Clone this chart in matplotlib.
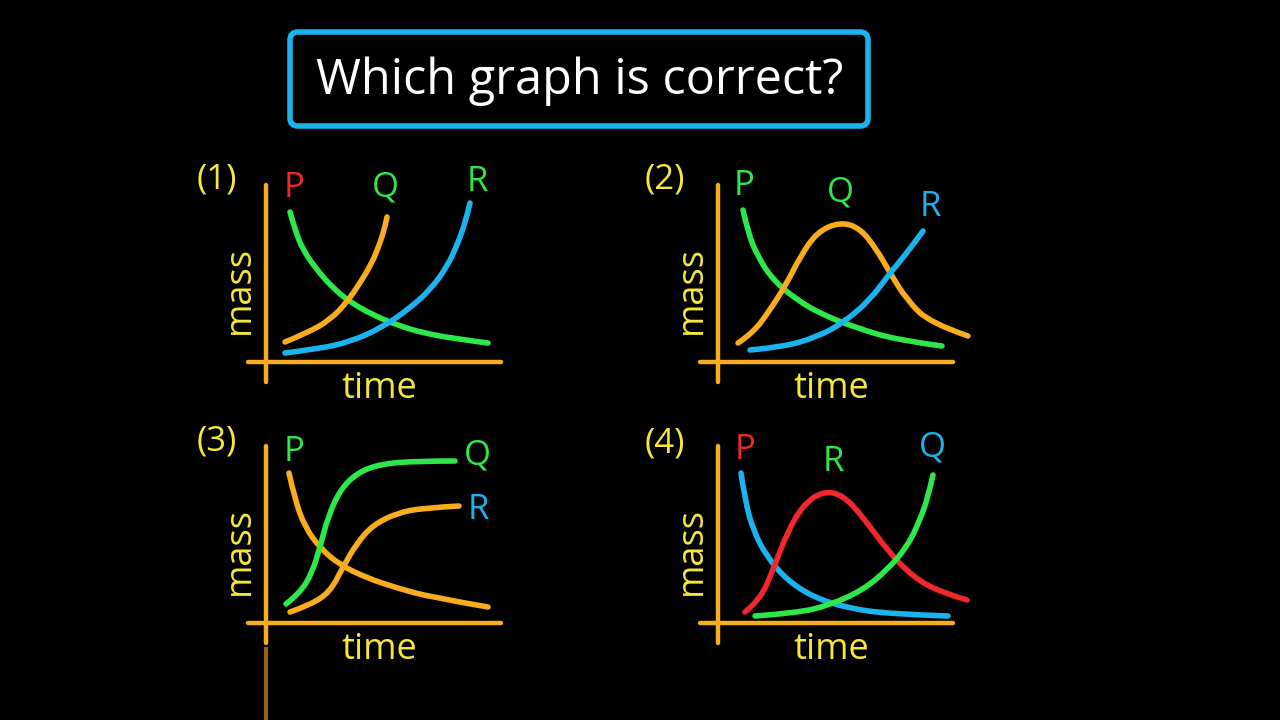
"""
Four hand-drawn style mass vs time sketches ("Which graph is correct?").
"""

import matplotlib
matplotlib.use("Agg")
import matplotlib.pyplot as plt
from matplotlib.patches import FancyBboxPatch, PathPatch
from matplotlib.path import Path

# ── Colours ──────────────────────────────────────────────────────────────────
BG = "#000000"
YELLOW = "#F6E83A"
ORANGE = "#F9AC1E"
GREEN = "#2EE84A"
BLUE = "#1BB3EE"
RED = "#F0272B"
WHITE = "#FFFFFF"

FONT = "Open Sans"

TITLE = "Which graph is correct?"
PANEL_LABELS = ["(1)", "(2)", "(3)", "(4)"]
X_LABEL = "time"
Y_LABEL = "mass"

# ── Curve data (time, mass) ─────────────────────────────────────────────────
# panel 1
P1_T = [24, 29, 37, 51, 67, 84, 107, 131, 157, 191, 222]
P1_M = [150, 132, 112, 92, 74, 60, 47, 37, 29, 23, 19]
Q1_T = [19, 41, 64, 81, 94, 106, 114, 119, 121]
Q1_M = [20, 29, 42, 60, 79, 99, 119, 135, 145]
R1_T = [19, 51, 84, 117, 144, 164, 181, 192, 200, 204]
R1_M = [9, 13, 20, 35, 54, 72, 95, 119, 142, 159]

# panel 2
P2_T = [25, 30, 40, 55, 79, 105, 139, 179, 224]
P2_M = [152, 129, 105, 82, 62, 47, 34, 22, 16]
Q2_T = [20, 35, 52, 69, 82, 99, 122, 142, 159, 172, 189, 212, 250]
Q2_M = [19, 29, 52, 79, 105, 130, 140, 134, 112, 89, 62, 39, 26]
R2_T = [32, 65, 99, 125, 152, 172, 189, 205]
R2_M = [12, 15, 25, 39, 62, 89, 109, 131]

# panel 3
P3_T = [23, 29, 39, 54, 74, 101, 131, 164, 222]
P3_M = [150, 123, 96, 75, 58, 45, 35, 26, 16]
Q3_T = [20, 34, 46, 54, 62, 74, 91, 114, 151, 189]
Q3_M = [19, 30, 50, 76, 106, 133, 150, 159, 162, 162]
R3_T = [24, 44, 64, 77, 91, 107, 131, 157, 193]
R3_M = [11, 18, 31, 56, 80, 98, 110, 115, 117]

# panel 4
P4_T = [23, 27, 35, 49, 69, 95, 129, 172, 230]
P4_M = [150, 123, 93, 66, 43, 26, 15, 9, 7]
R4_T = [27, 42, 55, 69, 85, 105, 125, 145, 169, 195, 222, 249]
R4_M = [11, 23, 53, 90, 118, 132, 128, 106, 73, 46, 31, 23]
Q4_T = [37, 79, 112, 145, 169, 189, 202, 210, 215]
Q4_M = [7, 10, 18, 33, 53, 76, 103, 126, 148]

# (label, label colour, label pos, curve colour, t, m) for each panel
PANELS = [
    [("P", RED, (28, 174), GREEN, P1_T, P1_M),
     ("Q", GREEN, (119, 174), ORANGE, Q1_T, Q1_M),
     ("R", GREEN, (211, 180), BLUE, R1_T, R1_M)],
    [("P", GREEN, (26, 176), GREEN, P2_T, P2_M),
     ("Q", GREEN, (122, 169), ORANGE, Q2_T, Q2_M),
     ("R", BLUE, (212, 155), BLUE, R2_T, R2_M)],
    [("P", GREEN, (28, 171), ORANGE, P3_T, P3_M),
     ("Q", GREEN, (211, 168), GREEN, Q3_T, Q3_M),
     ("R", BLUE, (212, 113), ORANGE, R3_T, R3_M)],
    [("P", RED, (27, 173), BLUE, P4_T, P4_M),
     ("R", GREEN, (115, 161), RED, R4_T, R4_M),
     ("Q", BLUE, (214, 176), GREEN, Q4_T, Q4_M)],
]

# pixel origin of each sketch's axes in the 1280x720 frame
ORIGINS = [(266, 362), (718, 362), (266, 623), (718, 623)]
NUM_POS = [(-49, 182), (-53, 182), (-49, 181), (-53, 180)]

W, H = 1280, 720


def smooth_path(t, m):
    """Quadratic B-spline path using the read points as control points."""
    pts = list(zip(t, m))
    verts = [pts[0]]
    codes = [Path.MOVETO]
    for i in range(1, len(pts) - 1):
        if i < len(pts) - 2:
            end = ((pts[i][0] + pts[i + 1][0]) / 2, (pts[i][1] + pts[i + 1][1]) / 2)
        else:
            end = pts[-1]
        verts += [pts[i], end]
        codes += [Path.CURVE3, Path.CURVE3]
    return Path(verts, codes)


def draw_panel(fig, idx):
    ox, oy = ORIGINS[idx]
    x0, x1, y0, y1 = -60, 270, -100, 210
    ax = fig.add_axes([(ox + x0) / W, (H - oy + y0) / H,
                       (x1 - x0) / W, (y1 - y0) / H])
    ax.set_xlim(x0, x1)
    ax.set_ylim(y0, y1)
    ax.axis("off")
    ax.patch.set_alpha(0)

    # hand drawn axes
    ax.plot([-18, 235], [0, 0], color=ORANGE, lw=3.2,
            solid_capstyle="round", clip_on=False)
    ax.plot([0, 0], [-20, 177], color=ORANGE, lw=3.2,
            solid_capstyle="round", clip_on=False)
    if idx == 2:
        # stray stroke trailing off the bottom of the frame
        ax.plot([0, 0], [-24, -100], color="#9A6216", lw=3.0,
                solid_capstyle="butt", clip_on=False)

    for name, lcol, lpos, ccol, t, m in PANELS[idx]:
        ax.add_patch(PathPatch(smooth_path(t, m), facecolor="none",
                               edgecolor=ccol, lw=4.0, capstyle="round",
                               joinstyle="round", clip_on=False))
        ax.text(lpos[0], lpos[1], name, color=lcol, fontsize=25,
                family=FONT, ha="center", va="center")

    nx, ny = NUM_POS[idx]
    ax.text(nx, ny, PANEL_LABELS[idx], color=YELLOW, fontsize=25,
            family=FONT, ha="center", va="center")
    ax.text(-26, 72, Y_LABEL, color=YELLOW, fontsize=26, family=FONT,
            rotation=90, ha="center", va="center")
    ax.text(113, -27, X_LABEL, color=YELLOW, fontsize=26, family=FONT,
            ha="center", va="center")


def main():
    fig = plt.figure(figsize=(12.8, 7.2), dpi=100)
    fig.patch.set_facecolor(BG)

    # ── Title box ─────────────────────────────────────────────────────────────
    bg = fig.add_axes([0, 0, 1, 1])
    bg.set_xlim(0, W)
    bg.set_ylim(H, 0)
    bg.axis("off")
    box = FancyBboxPatch((290, 32), 578, 94,
                         boxstyle="round,pad=0,rounding_size=8",
                         facecolor="none", edgecolor=BLUE, lw=4.0)
    bg.add_patch(box)
    bg.text(580, 81, TITLE, color=WHITE, fontsize=35, family=FONT,
            ha="center", va="center")

    for i in range(4):
        draw_panel(fig, i)

    fig.savefig("out.png", dpi=100, facecolor=fig.get_facecolor())
    plt.close(fig)


if __name__ == "__main__":
    main()
